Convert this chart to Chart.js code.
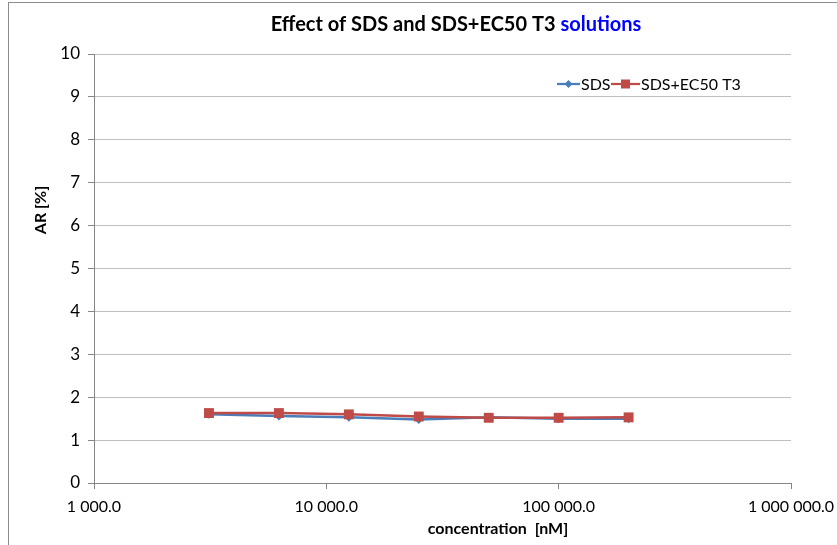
<!DOCTYPE html>
<html>
<head>
<meta charset="utf-8">
<script src="https://cdn.jsdelivr.net/npm/chart.js@4.4.0/dist/chart.umd.min.js"></script>
<style>
  html, body { margin: 0; padding: 0; background: #fff; }
  #wrap { width: 837px; height: 545px; }
</style>
</head>
<body>
<div id="wrap"><canvas id="chart" width="837" height="545"></canvas></div>
<script>
// concentrations (nM) and AR values
const concentrations = [3125, 6250, 12500, 25000, 50000, 100000, 200000];
const sds_values = [1.60, 1.56, 1.53, 1.48, 1.53, 1.50, 1.50];
const sds_ec50_values = [1.63, 1.63, 1.60, 1.55, 1.52, 1.52, 1.53];
const x_ticks = [1000, 10000, 100000, 1000000];
const y_ticks = [0, 1, 2, 3, 4, 5, 6, 7, 8, 9, 10];

const blue = '#4a7ebb';
const red = '#be4b48';

function fmt(v) {
  const s = Math.round(v).toString().replace(/\B(?=(\d{3})+(?!\d))/g, ' ');
  return s + '.0';
}

// title, axis titles, legend and frame
const decor = {
  id: 'decor',
  beforeDraw(chart) {
    const c = chart.ctx;
    c.save();
    c.strokeStyle = '#8c8c8c';
    c.lineWidth = 1;
    c.strokeRect(8.5, 2.5, 1000, 1000);
    c.restore();
  },
  afterDraw(chart) {
    const c = chart.ctx;
    c.save();
    // title
    c.font = 'bold 20px Lato';
    c.textBaseline = 'alphabetic';
    const t1 = 'Effect of SDS and SDS+EC50 T3 ';
    const t2 = 'solutions';
    const w = c.measureText(t1).width + c.measureText(t2).width;
    let x = 456 - w / 2;
    c.fillStyle = '#000';
    c.textAlign = 'left';
    c.fillText(t1, x, 31);
    c.fillStyle = '#0000ff';
    c.fillText(t2, x + c.measureText(t1).width, 31);

    // axis titles
    c.fillStyle = '#000';
    c.font = 'bold 16px Lato';
    c.textAlign = 'center';
    c.fillText('concentration  [nM]', 498, 534);
    c.translate(46, 210);
    c.rotate(-Math.PI / 2);
    c.fillText('AR [%]', 0, 0);
    c.restore();

    // legend
    c.save();
    const ly = 84;
    const items = [
      { ds: 0, x0: 557, x1: 580, tx: 581, label: 'SDS' },
      { ds: 1, x0: 611, x1: 640, tx: 641, label: 'SDS+EC50 T3' }
    ];
    c.font = '16px Lato';
    c.textBaseline = 'middle';
    c.textAlign = 'left';
    items.forEach(it => {
      const d = chart.data.datasets[it.ds];
      c.strokeStyle = d.borderColor;
      c.lineWidth = 2.25;
      c.beginPath();
      c.moveTo(it.x0, ly);
      c.lineTo(it.x1, ly);
      c.stroke();
      const mx = (it.x0 + it.x1) / 2;
      c.fillStyle = d.backgroundColor;
      if (d.pointStyle === 'rect') {
        c.fillRect(mx - 4.5, ly - 4.5, 9, 9);
      } else {
        c.beginPath();
        c.moveTo(mx, ly - 4);
        c.lineTo(mx + 4, ly);
        c.lineTo(mx, ly + 4);
        c.lineTo(mx - 4, ly);
        c.closePath();
        c.fill();
      }
      c.fillStyle = '#000';
      c.fillText(it.label, it.tx, ly + 1);
    });
    c.restore();
  }
};

new Chart(document.getElementById('chart'), {
  type: 'line',
  data: {
    datasets: [{
      label: 'SDS',
      data: concentrations.map((c, i) => ({ x: c, y: sds_values[i] })),
      borderColor: blue,
      backgroundColor: blue,
      borderWidth: 2.5,
      pointStyle: 'rectRot',
      pointRadius: 4.5,
      pointBorderWidth: 0,
      tension: 0,
      order: 1
    }, {
      label: 'SDS+EC50 T3',
      data: concentrations.map((c, i) => ({ x: c, y: sds_ec50_values[i] })),
      borderColor: red,
      backgroundColor: red,
      borderWidth: 2.5,
      pointStyle: 'rect',
      pointRadius: 7,
      pointBorderWidth: 0,
      tension: 0,
      order: 0
    }]
  },
  options: {
    responsive: false,
    animation: false,
    layout: { padding: { top: 54, right: 46, left: 0, bottom: 0 } },
    plugins: {
      legend: { display: false },
      title: { display: false },
      tooltip: { enabled: false }
    },
    scales: {
      x: {
        type: 'logarithmic',
        min: 1000,
        max: 1000000,
        afterBuildTicks(scale) {
          scale.ticks = x_ticks.map(v => ({ value: v, major: true }));
        },
        afterFit(scale) {
          scale.height = 62;
          scale.paddingLeft = 0;
          scale.paddingRight = 0;
        },
        ticks: {
          autoSkip: false,
          maxRotation: 0,
          color: '#000',
          font: { size: 16, family: 'Lato' },
          padding: 8,
          callback: v => fmt(v)
        },
        grid: {
          drawOnChartArea: false,
          drawTicks: true,
          tickLength: 6,
          color: '#868686'
        },
        border: { color: '#868686' }
      },
      y: {
        min: 0,
        max: 10,
        afterBuildTicks(scale) {
          scale.ticks = y_ticks.map(v => ({ value: v }));
        },
        afterFit(scale) {
          scale.width = 94;
          scale.paddingTop = 0;
          scale.paddingBottom = 0;
        },
        ticks: {
          color: '#000',
          font: { size: 17, family: 'Lato' },
          padding: 8
        },
        grid: {
          color: '#bfbfbf',
          tickColor: '#868686',
          tickLength: 6
        },
        border: { color: '#868686' }
      }
    }
  },
  plugins: [decor]
});
</script>
</body>
</html>
